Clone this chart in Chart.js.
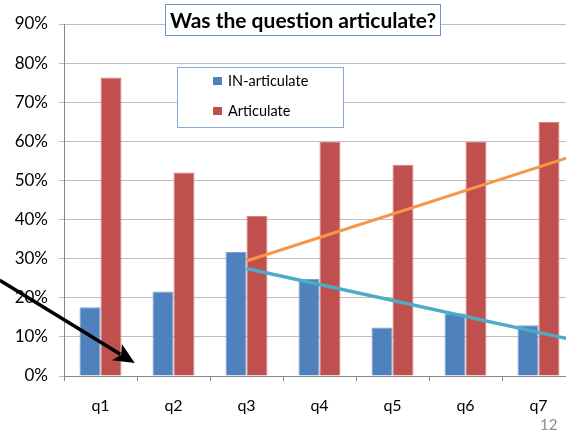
<!DOCTYPE html>
<html><head><meta charset="utf-8">
<script src="https://cdn.jsdelivr.net/npm/chart.js@4.4.0/dist/chart.umd.min.js"></script>
<style>
html,body{margin:0;padding:0;overflow:hidden;background:#fff;width:566px;height:433px}
#wrap{position:relative;width:576px;height:433px}
#pg{position:absolute;left:540px;top:415px;font:15px Lato, sans-serif;color:#8c8c8c}
</style></head><body>
<div id="wrap"><canvas id="c" width="576" height="433"></canvas></div>
<div id="pg">12</div>
<script>
const categories = ['q1','q2','q3','q4','q5','q6','q7'];
const seriesNames = ['IN-articulate','Articulate'];
const inArticulate = [17.6, 21.6, 31.7, 24.8, 12.4, 16.0, 13.0];
const articulate = [76.3, 52.0, 40.9, 59.8, 54.0, 59.8, 65.0];
const yTickValues = [0,10,20,30,40,50,60,70,80,90];
const titleText = 'Was the question articulate?';
// hand-drawn trend lines (x = category index, y = percent)
const orangeTrend = [{x:2, y:29.4}, {x:6.5, y:56.4}];
const tealTrend = [{x:2, y:27.5}, {x:6.5, y:9.1}];
// annotation arrow (x = category index, y = percent)
const arrowLine = [{x:-1.38, y:24.5}, {x:0.47, y:3.3}];

const FONT = 'Lato, "Open Sans", sans-serif';

const decor = {
  id: 'decor',
  afterDraw(chart) {
    const ctx = chart.ctx;
    const xs = chart.scales.x, ys = chart.scales.y;
    ctx.save();
    // title box
    ctx.fillStyle = '#fff';
    ctx.fillRect(165.5, 4.5, 275, 31);
    ctx.strokeStyle = '#6F93C7';
    ctx.lineWidth = 1;
    ctx.strokeRect(165.5, 4.5, 275, 31);
    ctx.fillStyle = '#000';
    ctx.font = 'bold 21px ' + FONT;
    ctx.textAlign = 'center';
    ctx.textBaseline = 'middle';
    ctx.fillText(titleText, 303, 21);
    // legend box
    ctx.fillStyle = '#fff';
    ctx.fillRect(177.5, 67.5, 166, 60);
    ctx.strokeStyle = '#86A9D9';
    ctx.strokeRect(177.5, 67.5, 166, 60);
    ctx.font = '14.5px ' + FONT;
    ctx.textAlign = 'left';
    chart.data.datasets.filter(d => d.type !== 'line').forEach((d, i) => {
      const cy = 81 + i * 30;
      ctx.fillStyle = d.backgroundColor;
      ctx.fillRect(213, cy - 4, 9, 8);
      ctx.fillStyle = '#000';
      ctx.fillText(d.label, 228, cy + 0.5);
    });
    // arrow
    const x0 = xs.getPixelForValue(arrowLine[0].x), y0 = ys.getPixelForValue(arrowLine[0].y);
    const x1 = xs.getPixelForValue(arrowLine[1].x), y1 = ys.getPixelForValue(arrowLine[1].y);
    const ang = Math.atan2(y1 - y0, x1 - x0);
    const hl = 21, hw = 9.5;
    const bx = x1 - hl * Math.cos(ang), by = y1 - hl * Math.sin(ang);
    ctx.strokeStyle = '#000';
    ctx.lineWidth = 3.5;
    ctx.beginPath();
    ctx.moveTo(x0, y0);
    ctx.lineTo(bx + 4 * Math.cos(ang), by + 4 * Math.sin(ang));
    ctx.stroke();
    ctx.fillStyle = '#000';
    ctx.beginPath();
    ctx.moveTo(x1, y1);
    ctx.lineTo(bx - hw * Math.sin(ang), by + hw * Math.cos(ang));
    ctx.lineTo(bx + 5 * Math.cos(ang), by + 5 * Math.sin(ang));
    ctx.lineTo(bx + hw * Math.sin(ang), by - hw * Math.cos(ang));
    ctx.closePath();
    ctx.fill();
    ctx.restore();
  }
};

new Chart(document.getElementById('c'), {
  type: 'bar',
  data: {
    labels: categories,
    datasets: [
      {label: seriesNames[0], data: inArticulate, backgroundColor: '#4F81BD', borderColor: '#7A9FD0', borderWidth: 1, order: 2},
      {label: seriesNames[1], data: articulate, backgroundColor: '#C0504D', borderColor: '#D47E7C', borderWidth: 1, order: 2},
      {type: 'line', label: 'trend up', data: orangeTrend, parsing: false, borderColor: '#F79646', borderWidth: 3, pointRadius: 0, order: 1},
      {type: 'line', label: 'trend down', data: tealTrend, parsing: false, borderColor: '#4BACC6', borderWidth: 3.5, pointRadius: 0, order: 0}
    ]
  },
  options: {
    responsive: false,
    animation: false,
    devicePixelRatio: 1,
    layout: {padding: {top: 24, right: 1, left: 0, bottom: 0}},
    datasets: {bar: {categoryPercentage: 0.575, barPercentage: 1.0}},
    plugins: {legend: {display: false}, tooltip: {enabled: false}, title: {display: false}},
    scales: {
      x: {
        type: 'category', offset: true, bounds: 'ticks',
        grid: {display: true, drawOnChartArea: false, drawTicks: true, tickLength: 5, offset: true, color: '#878787'},
        border: {color: '#878787'},
        ticks: {font: {family: FONT, size: 16}, color: '#000', padding: 15},
        afterFit(s) { s.height = 57; }
      },
      y: {
        min: 0, max: 90,
        afterBuildTicks(s) { s.ticks = yTickValues.map(v => ({value: v})); },
        ticks: {callback: v => v + '%', font: {family: FONT, size: 17}, color: '#000', padding: 11},
        grid: {color: '#BEBEBE', tickLength: 5},
        border: {color: '#878787'},
        afterFit(s) { s.width = 64; }
      }
    }
  },
  plugins: [decor]
});
</script>
</body></html>
